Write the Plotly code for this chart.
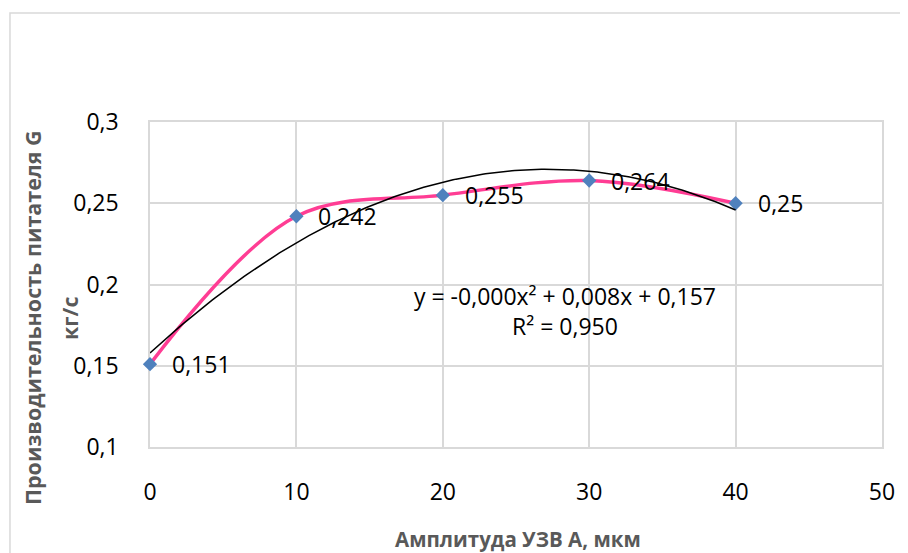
import numpy as np
import plotly.graph_objects as go

# Data
amplitude = [0, 10, 20, 30, 40]
feed_rate = [0.151, 0.242, 0.255, 0.264, 0.25]
point_labels = ["0,151", "0,242", "0,255", "0,264", "0,25"]
x_ticks = [0, 10, 20, 30, 40, 50]
x_ticklabels = ["0", "10", "20", "30", "40", "50"]
y_ticks = [0.1, 0.15, 0.2, 0.25, 0.3]
y_ticklabels = ["0,1", "0,15", "0,2", "0,25", "0,3"]
equation_text = "y = -0,000x² + 0,008x + 0,157<br>R² = 0,950"
x_title = "Амплитуда УЗВ А, мкм"
y_title_1 = "Производительность питателя G"
y_title_2 = "кг/с"

# Polynomial (order 2) trendline fitted to the data
coef = np.polyfit(amplitude, feed_rate, 2)
trend_x = np.linspace(min(amplitude), max(amplitude), 200)
trend_y = np.polyval(coef, trend_x)

FONT = "Open Sans, Liberation Sans, Arial, sans-serif"
GRID = "#d9d9d9"

fig = go.Figure()
fig.add_trace(go.Scatter(
    x=amplitude, y=feed_rate, mode="lines",
    line=dict(color="#FF3D94", width=3.5, shape="spline", smoothing=1.0),
    hoverinfo="skip", showlegend=False, cliponaxis=False))
fig.add_trace(go.Scatter(
    x=amplitude, y=feed_rate, mode="markers",
    marker=dict(symbol="diamond", size=11, color="#4F81BD"),
    showlegend=False, cliponaxis=False))
fig.add_trace(go.Scatter(
    x=trend_x, y=trend_y, mode="lines",
    line=dict(color="black", width=1.5),
    hoverinfo="skip", showlegend=False, cliponaxis=False))

for xv, yv, lab in zip(amplitude, feed_rate, point_labels):
    fig.add_annotation(x=xv, y=yv, text=lab, showarrow=False,
                       xanchor="left", yanchor="middle", xshift=20,
                       font=dict(family=FONT, size=23, color="black"))

fig.add_annotation(x=0.5669, y=0.418, xref="paper", yref="paper",
                   text=equation_text, showarrow=False, align="center",
                   xanchor="center", yanchor="middle",
                   font=dict(family=FONT, size=23, color="black"))

fig.add_annotation(x=0.5027, y=-0.283, xref="paper", yref="paper",
                   text=x_title, showarrow=False, xanchor="center", yanchor="middle",
                   font=dict(family=FONT, size=20.5, color="#595959", weight="bold"))
fig.add_annotation(x=-0.1598, y=0.397, xref="paper", yref="paper",
                   text=y_title_1, showarrow=False, textangle=-90,
                   xanchor="center", yanchor="middle",
                   font=dict(family=FONT, size=21.5, color="#595959", weight="bold"))
fig.add_annotation(x=-0.1093, y=0.397, xref="paper", yref="paper",
                   text=y_title_2, showarrow=False, textangle=-90,
                   xanchor="center", yanchor="middle",
                   font=dict(family=FONT, size=21.5, color="#595959", weight="bold"))

# chart-area border
fig.add_shape(type="rect", xref="paper", yref="paper",
              x0=-0.1913, x1=1.05, y0=-0.37, y1=1.3354,
              line=dict(color=GRID, width=1.5), layer="below")

fig.update_xaxes(range=[0, 50], tickvals=x_ticks, ticktext=x_ticklabels,
                 showgrid=True, gridcolor=GRID, gridwidth=1.5,
                 showline=True, linecolor=GRID, linewidth=1.5, mirror=True,
                 zeroline=False, ticks="", ticklabelstandoff=24,
                 layer="below traces",
                 tickfont=dict(family=FONT, size=23, color="black"))
fig.update_yaxes(range=[0.1, 0.3], tickvals=y_ticks, ticktext=y_ticklabels,
                 showgrid=True, gridcolor=GRID, gridwidth=1.5,
                 showline=True, linecolor=GRID, linewidth=1.5, mirror=True,
                 zeroline=False, ticks="", ticklabelstandoff=25,
                 layer="below traces",
                 tickfont=dict(family=FONT, size=23, color="black"))

fig.update_layout(width=900, height=545,
                  margin=dict(l=142, r=26, t=114, b=106),
                  paper_bgcolor="white", plot_bgcolor="white",
                  showlegend=False)

fig.write_html("out.html")
